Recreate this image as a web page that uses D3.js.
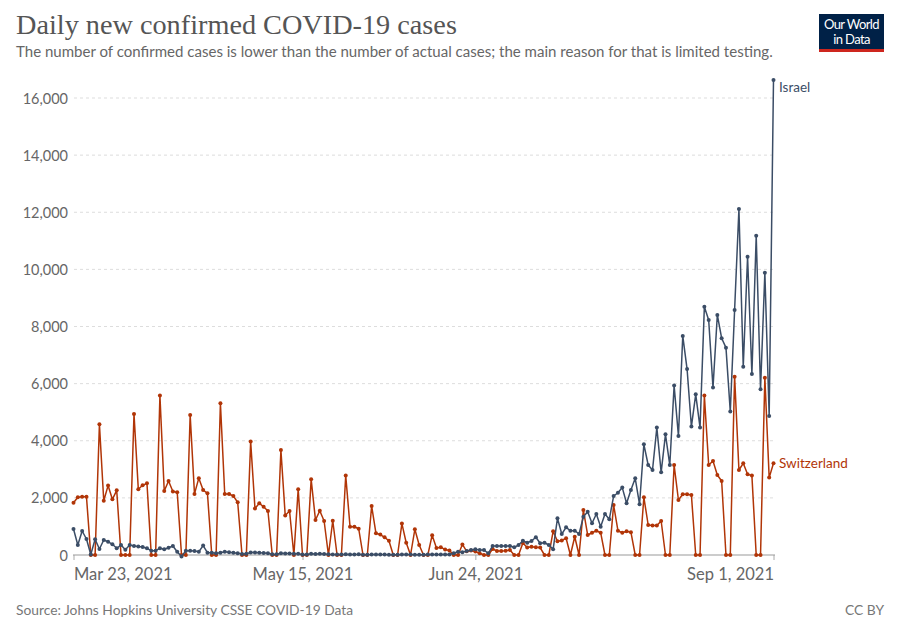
<!DOCTYPE html>
<html>
<head>
<meta charset="utf-8">
<script src="https://cdn.jsdelivr.net/npm/d3@7"></script>
<style>
  html, body { margin: 0; padding: 0; background: #fff; }
  svg { display: block; }
</style>
</head>
<body>
<svg id="chart" width="900" height="635"></svg>
<script>
const startDate = "2021-03-23";
const endDate = "2021-09-01";
const tickDates = ["2021-03-23", "2021-05-15", "2021-06-24", "2021-09-01"];
const tickLabels = ["Mar 23, 2021", "May 15, 2021", "Jun 24, 2021", "Sep 1, 2021"];
const yTicks = [0, 2000, 4000, 6000, 8000, 10000, 12000, 14000, 16000];
const seriesNames = ["Israel", "Switzerland"];

const israel = [910,350,840,560,20,550,210,525,465,375,235,350,185,350,315,300,280,235,150,150,
235,200,255,315,115,-50,150,150,140,115,330,80,80,60,80,115,95,80,60,35,
40,90,85,80,70,60,30,25,60,55,50,45,40,20,20,40,35,40,35,30,
20,15,20,30,20,20,25,10,10,20,20,15,15,10,5,10,15,15,15,10,
10,5,15,15,20,15,20,20,60,115,100,140,175,200,175,175,60,315,315,315,
315,315,270,350,500,430,490,620,410,430,350,200,1285,735,970,850,850,735,1340,1515,
1110,1435,990,1435,1250,2065,2180,2360,1810,2275,2685,1775,3875,3150,2975,4460,2895,4225,3150,5930,
4165,7670,6510,4495,5625,4460,8695,8230,5860,8405,7590,7260,5020,8580,12115,6595,10445,6340,11180,5800,
9885,4865,16630];

const switzerland = [1830,2020,2040,2040,0,0,4575,1900,2430,1950,2265,0,0,0,4940,2300,2440,2510,0,0,
5580,2240,2590,2220,2200,0,0,4900,2140,2690,2275,2160,0,0,5310,2135,2135,2065,1845,0,
0,3970,1630,1810,1690,1540,0,0,3675,1380,1540,0,2300,0,0,2650,1225,1550,1190,0,
1200,0,0,2780,990,990,920,0,0,1715,760,715,620,500,0,0,1100,430,0,900,
350,0,0,695,245,275,190,160,0,0,370,130,160,120,60,0,0,210,140,140,
150,175,0,0,420,260,290,270,260,0,0,830,480,510,585,0,640,0,1575,700,
780,850,780,0,0,1750,850,780,830,800,0,0,2020,1050,1030,1030,1190,0,0,3150,
1925,2125,2125,2100,0,0,5580,3150,3290,2800,2590,0,0,6245,2975,3210,2825,2780,0,0,
6210,2710,3210];

const colors = { "Israel": "#3b4d66", "Switzerland": "#b13507" };

const parse = d3.timeParse("%Y-%m-%d");
const t0 = parse(startDate);
const dates = israel.map((_, i) => d3.timeDay.offset(t0, i));
const data = {
  "Israel": israel.map((v, i) => ({ date: dates[i], value: v })),
  "Switzerland": switzerland.map((v, i) => ({ date: dates[i], value: v }))
};

const svg = d3.select("#chart");
const font = "Lato, 'Noto Sans', sans-serif";

const x = d3.scaleTime().domain([parse(startDate), parse(endDate)]).range([73.5, 773.5]);
const y = d3.scaleLinear().domain([0, 16000]).range([555, 98]);

function fit(sel, width) {
  const len = sel.node().getComputedTextLength();
  const fs = parseFloat(sel.attr("font-size"));
  sel.attr("font-size", fs * width / len);
}

// Title
const title = svg.append("text").attr("x", 16).attr("y", 34)
  .attr("font-family", "'Liberation Serif', 'DejaVu Serif', serif")
  .attr("font-size", 28).attr("fill", "#555")
  .text("Daily new confirmed COVID-19 cases");
fit(title, 441);

const sub = svg.append("text").attr("x", 16).attr("y", 57)
  .attr("font-family", font).attr("font-size", 14.5).attr("fill", "#666")
  .text("The number of confirmed cases is lower than the number of actual cases; the main reason for that is limited testing.");
fit(sub, 757);

// Logo
const logo = svg.append("g");
logo.append("rect").attr("x", 819).attr("y", 14).attr("width", 65).attr("height", 38).attr("fill", "#002147");
logo.append("rect").attr("x", 819).attr("y", 49).attr("width", 65).attr("height", 3).attr("fill", "#ce261e");
logo.append("text").attr("x", 851.5).attr("y", 29).attr("text-anchor", "middle")
  .attr("font-family", font).attr("font-size", 13).attr("fill", "#fff").attr("letter-spacing", -0.6).text("Our World");
logo.append("text").attr("x", 851.5).attr("y", 44).attr("text-anchor", "middle")
  .attr("font-family", font).attr("font-size", 13).attr("fill", "#fff").attr("letter-spacing", -0.6).text("in Data");

// Gridlines
svg.append("g").selectAll("line").data(yTicks.filter(d => d > 0)).join("line")
  .attr("x1", 74).attr("x2", 775)
  .attr("y1", d => y(d)).attr("y2", d => y(d))
  .attr("stroke", "#ddd").attr("stroke-dasharray", "3,3").attr("stroke-width", 1);

// Y axis labels
const yAxis = d3.axisLeft(y).tickValues(yTicks).tickFormat(d3.format(",")).tickSize(0).tickPadding(0);
const yg = svg.append("g").attr("transform", "translate(68,0)").call(yAxis);
yg.select(".domain").remove();
yg.selectAll("text").attr("font-family", font).attr("font-size", 14.5).attr("fill", "#666").attr("dy", "0.35em");

// X axis
const xAxis = d3.axisBottom(x).tickValues(tickDates.map(parse))
  .tickFormat((d, i) => tickLabels[i]).tickSize(5).tickPadding(7);
const xg = svg.append("g").attr("transform", "translate(0,555)").call(xAxis);
xg.select(".domain").remove();
xg.selectAll("line").attr("stroke", "#aaa");
xg.selectAll("text").attr("font-family", font).attr("font-size", 16.5).attr("fill", "#666")
  .attr("text-anchor", (d, i) => i === 0 ? "start" : (i === tickDates.length - 1 ? "end" : "middle"))
  .attr("dy", "0.8em");

// Zero line
svg.append("line").attr("x1", 73).attr("x2", 775).attr("y1", y(0)).attr("y2", y(0))
  .attr("stroke", "#999").attr("stroke-width", 1);

// Lines
const line = d3.line().x(d => x(d.date)).y(d => y(d.value));
const order = ["Switzerland", "Israel"];
order.forEach(name => {
  const g = svg.append("g");
  g.append("path").datum(data[name]).attr("d", line)
    .attr("fill", "none").attr("stroke", colors[name]).attr("stroke-width", 1.5)
    .attr("stroke-linejoin", "round");
  g.selectAll("circle").data(data[name]).join("circle")
    .attr("cx", d => x(d.date)).attr("cy", d => y(d.value)).attr("r", 2)
    .attr("fill", colors[name]);
});

// Series labels
seriesNames.forEach(name => {
  const last = data[name][data[name].length - 1];
  svg.append("text").attr("x", 779).attr("y", y(last.value) + (name === "Israel" ? 7 : 0))
    .attr("dy", "0.35em")
    .attr("font-family", font).attr("font-size", 13.5).attr("fill", colors[name])
    .text(name);
});

// Footer
svg.append("text").attr("x", 16).attr("y", 615).attr("font-family", font).attr("font-size", 13.8)
  .attr("fill", "#777").text("Source: Johns Hopkins University CSSE COVID-19 Data");
svg.append("text").attr("x", 884).attr("y", 615).attr("text-anchor", "end").attr("font-family", font)
  .attr("font-size", 13.8).attr("fill", "#777").text("CC BY");
</script>
</body>
</html>
